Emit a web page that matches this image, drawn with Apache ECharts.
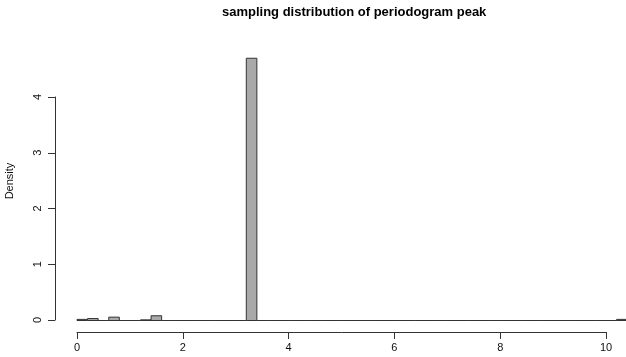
<!DOCTYPE html>
<html><head><meta charset="utf-8">
<script src="https://cdn.jsdelivr.net/npm/echarts@6/dist/echarts.min.js"></script>
<style>html,body{margin:0;padding:0;background:#fff}#c{width:626px;height:357px}</style>
</head><body><div id="c"></div>
<script>
// Histogram bins (width 0.2) from 0 to 10.4
var binStarts = [0,0.2,0.4,0.6,0.8,1,1.2,1.4,1.6,1.8,2,2.2,2.4,2.6,2.8,3,3.2,3.4,3.6,3.8,4,4.2,4.4,4.6,4.8,5,5.2,5.4,5.6,5.8,6,6.2,6.4,6.6,6.8,7,7.2,7.4,7.6,7.8,8,8.2,8.4,8.6,8.8,9,9.2,9.4,9.6,9.8,10,10.2];
var binWidth = 0.2;
var densities = [0.02,0.035,0,0.06,0,0,0.012,0.085,0,0,0,0,0,0,0,0,4.70,0,0,0,0,0,0,0,0,0,0,0,0,0,0,0,0,0,0,0,0,0,0,0,0,0,0,0,0,0,0,0,0,0,0,0.02];
var xTicks = [0,2,4,6,8,10];
var yTicks = [0,1,2,3,4];
var titleText = 'sampling distribution of periodogram peak';
var yName = 'Density';

var data = binStarts.map(function(s,i){return [s, s+binWidth, densities[i]];});
var font = 'Liberation Sans, Arial, Helvetica, sans-serif';
var chart = echarts.init(document.getElementById('c'), null, {renderer:'canvas'});
chart.setOption({
  animation:false,
  title:{text:titleText,left:222,top:6,padding:0,textStyle:{fontFamily:font,fontSize:13,fontWeight:'bold',color:'#000'}},
  grid:[
    {left:77,top:41.5,width:550.2,height:279,outerBoundsMode:'none',containLabel:false},
    {left:77,top:300,width:529,height:32,outerBoundsMode:'none',containLabel:false},
    {left:55,top:97,width:10,height:223,outerBoundsMode:'none',containLabel:false}
  ],
  xAxis:[
    {gridIndex:0,type:'value',min:0,max:10.4,show:false},
    {gridIndex:1,type:'value',min:0,max:10,interval:2,position:'bottom',
     axisLine:{show:true,lineStyle:{color:'#333',width:1}},
     axisTick:{show:true,length:7,lineStyle:{color:'#333'}},
     axisLabel:{show:true,margin:10,fontFamily:font,fontSize:11,color:'#111',
       formatter:function(v){return xTicks.indexOf(v)>=0?String(v):'';}},
     splitLine:{show:false}},
    {gridIndex:2,type:'value',min:0,max:1,show:false}
  ],
  yAxis:[
    {gridIndex:0,type:'value',min:0,max:5,show:true,
     axisLine:{show:false},axisTick:{show:false},axisLabel:{show:false},splitLine:{show:false},
     name:yName,nameLocation:'middle',nameRotate:90,nameGap:62,
     nameTextStyle:{fontFamily:font,fontSize:11,color:'#111'}},
    {gridIndex:1,type:'value',min:0,max:1,show:false},
    {gridIndex:2,type:'value',min:0,max:4,interval:1,position:'left',
     axisLine:{show:true,lineStyle:{color:'#333',width:1}},
     axisTick:{show:true,length:7,lineStyle:{color:'#333'}},
     axisLabel:{show:true,rotate:90,margin:12,fontFamily:font,fontSize:11,color:'#111',
       formatter:function(v){return yTicks.indexOf(v)>=0?String(v):'';}},
     splitLine:{show:false}}
  ],
  series:[{
    type:'custom',xAxisIndex:0,yAxisIndex:0,
    renderItem:function(params,api){
      var p0=api.coord([api.value(0),0]);
      var p1=api.coord([api.value(1),api.value(2)]);
      return {type:'rect',shape:{x:p0[0],y:p1[1],width:p1[0]-p0[0],height:p0[1]-p1[1]},
        style:{fill:'#a9a9a9',stroke:'#333',lineWidth:1}};
    },
    data:data
  }]
});
</script></body></html>
